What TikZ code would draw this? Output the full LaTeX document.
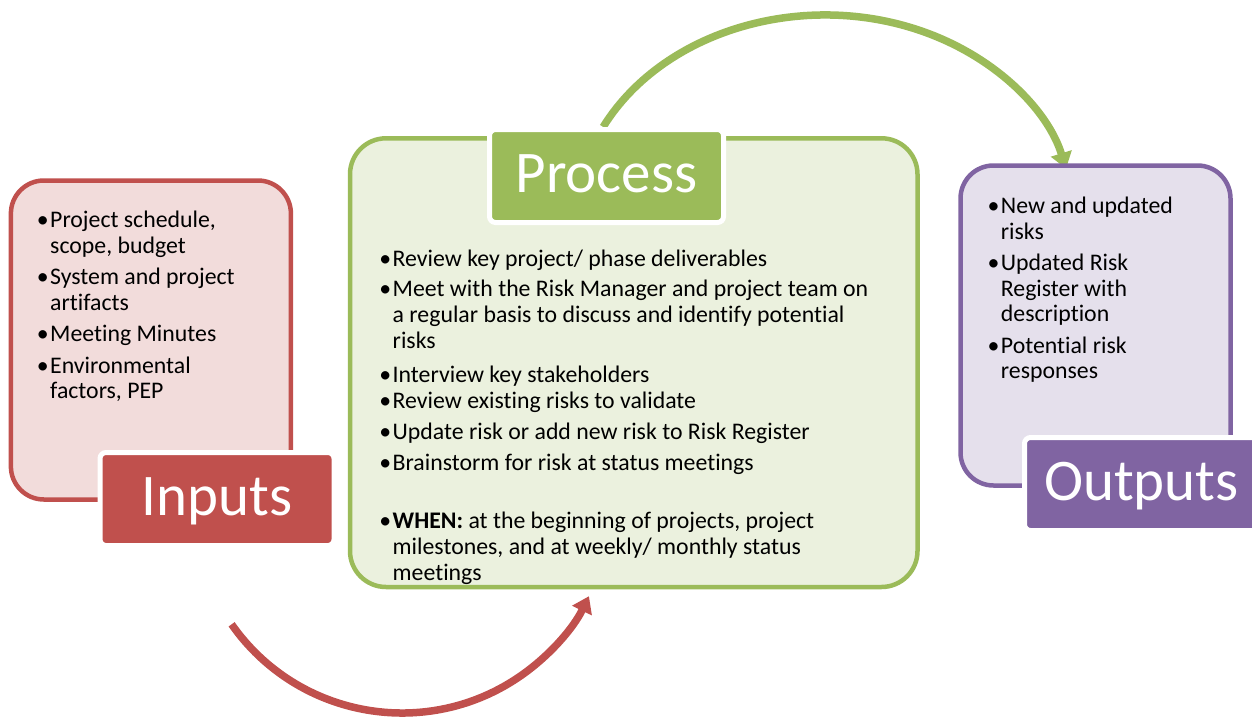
\documentclass[tikz,border=0pt]{standalone}
\usepackage{fontspec}
\setmainfont{Carlito}[Ligatures=NoCommon]
\usetikzlibrary{arrows.meta}
\definecolor{redC}{HTML}{C0504D}
\definecolor{redF}{HTML}{F2DCDB}
\definecolor{greenC}{HTML}{9BBB59}
\definecolor{greenF}{HTML}{EBF1DE}
\definecolor{purpC}{HTML}{8064A2}
\definecolor{purpF}{HTML}{E5E0EC}
\newcommand\tbul{\llap{•\kern1.5pt}}
\begin{document}
\begin{tikzpicture}[x=1pt,y=-1pt,
  box/.style={draw, line width=4.5pt, rounded corners=33pt, inner sep=0pt},
  tag/.style={draw=white, line width=5pt, rounded corners=6pt, minimum width=234pt,
    minimum height=93pt, text=white, font=\fontsize{59}{70}\selectfont,
    text height=33pt, text depth=0pt, inner sep=0pt},
  bodytext/.style={anchor=north west, inner sep=0pt, align=left, text=black,
    font=\fontsize{23.8}{25.5}\selectfont},
  cyc/.style={line width=7.5pt, -{Triangle[length=16pt,width=21pt]}}]
\useasboundingbox (0,0) rectangle (1252,717);
% cycle arrows
\coordinate (redCenter) at (402,505);
\coordinate (greenCenter) at (825,220);
\draw[cyc, color=redC] ([shift={(145:208)}]redCenter) arc[start angle=145, end angle=26, radius=208];
\draw[cyc, color=greenC] ([shift={(207:249 and 205)}]greenCenter) arc[start angle=207, end angle=345.5, x radius=249, y radius=205];
% boxes
\node[box, draw=redC, fill=redF, minimum width=280pt, minimum height=319pt] (inBox) at (150.9,340) {};
\node[box, draw=greenC, fill=greenF, rounded corners=36pt, minimum width=567.5pt, minimum height=448.7pt] (procBox) at (633.75,362.65) {};
\node[box, draw=purpC, fill=purpF, minimum width=270pt, minimum height=320pt] (outBox) at (1095.5,325.5) {};
% tags
\node[tag, fill=redC] (inTag) at (217,499) {Inputs};
\node[tag, fill=greenC] (procTag) at (606.5,176) {Process};
\node[tag, fill=purpC] (outTag) at (1141.5,484) {Outputs};
% texts
\node[bodytext] (inText) at (50,209.85) {\strut\tbul Project schedule,\\scope, budget\\[6pt]\tbul System and project\\artifacts\\[6pt]\tbul Meeting Minutes\\[6pt]\tbul Environmental\\factors, PEP};
\node[bodytext, font=\fontsize{23.8}{26}\selectfont] (procText) at (392.5,247.8) {\strut\tbul Review key project/ phase deliverables\\[4pt]
\tbul Meet with the Risk Manager and project team on\\a regular basis to discuss and identify potential\\risks\\[8pt]
\tbul Interview key stakeholders\\
\tbul Review existing risks to validate\\[5pt]
\tbul Update risk or add new risk to Risk Register\\[5pt]
\tbul Brainstorm for risk at status meetings\\[32pt]
\tbul\textbf{WHEN:} at the beginning of projects, project\\milestones, and at weekly/ monthly status\\meetings};
\node[bodytext] (outText) at (1000.7,195.85) {\strut\tbul New and updated\\risks\\[6pt]\tbul Updated Risk\\Register with\\description\\[6pt]\tbul Potential risk\\responses};
\end{tikzpicture}
\end{document}
